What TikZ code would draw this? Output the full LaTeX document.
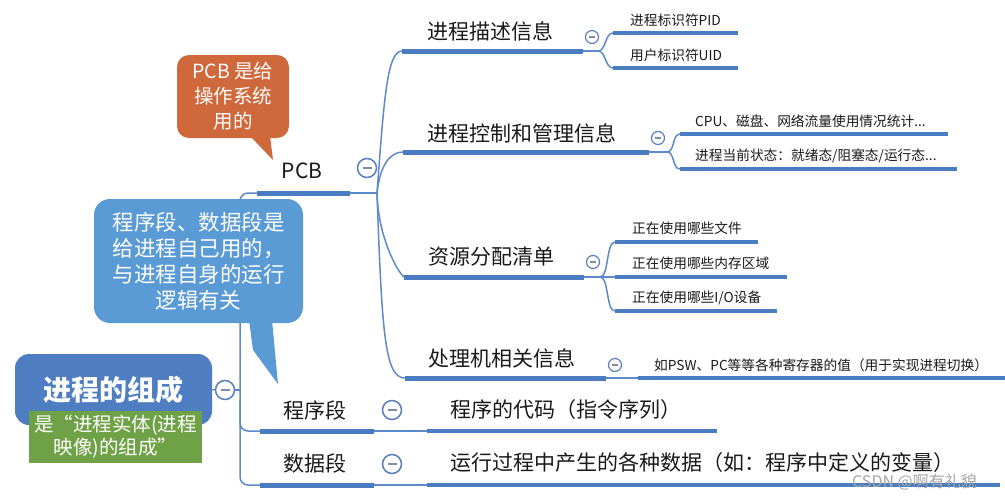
\documentclass[tikz,border=0pt]{standalone}
\usepackage{fontspec}
\newfontfamily\cjk{Noto Sans CJK SC}
\definecolor{lineblue}{HTML}{4A7CC2}
\definecolor{thinblue}{HTML}{5E8ACB}
\definecolor{circblue}{HTML}{5C7FBF}
\definecolor{minusgray}{HTML}{7D8DA6}
\definecolor{rootblue}{HTML}{4E7DC1}
\definecolor{notegreen}{HTML}{6FA246}
\definecolor{pcbred}{HTML}{CF683A}
\definecolor{noteblue}{HTML}{5B9BD5}
\definecolor{txt}{HTML}{1A1A1A}
\tikzset{
  thickln/.style={line width=5pt, draw=lineblue},
  subln/.style={line width=3.3pt, draw=lineblue},
  thinln/.style={line width=1.5pt, draw=thinblue},
  bigmin/.style={circle, draw=circblue, line width=1.5pt, fill=white, minimum size=19pt, inner sep=0pt,
    path picture={\draw[minusgray,line width=1.4pt] ([xshift=-4.5pt]path picture bounding box.center) -- ([xshift=4.5pt]path picture bounding box.center);}},
  smallmin/.style={circle, draw=circblue, line width=1.2pt, fill=white, minimum size=13pt, inner sep=0pt,
    path picture={\draw[minusgray,line width=1.1pt] ([xshift=-3pt]path picture bounding box.center) -- ([xshift=3pt]path picture bounding box.center);}},
  maintxt/.style={anchor=west, inner sep=0pt, text=txt, font=\cjk\fontsize{21}{25}\selectfont},
  subtxt/.style={anchor=west, inner sep=0pt, text=txt, font=\cjk\fontsize{13.7}{16}\selectfont},
  notetxt/.style={text=white, align=center, inner sep=0pt},
}
\begin{document}
\begin{tikzpicture}[x=1pt,y=-1pt]
\useasboundingbox (0,0) rectangle (1005,499);
\fill[white] (0,0) rectangle (1005,499);

% ---------- coordinates ----------
\coordinate (tkT) at (240,193);
\coordinate (tkB) at (240,485);
\coordinate (pcbA) at (257,193); \coordinate (pcbB) at (350,193); \coordinate (pcbC) at (377,193);
\coordinate (progA) at (260,431); \coordinate (progB) at (374,431); \coordinate (progC) at (427,431); \coordinate (codeB) at (717,431);
\coordinate (dataA) at (260,485); \coordinate (dataB) at (374,485); \coordinate (dataC) at (427,485); \coordinate (varB) at (1000,485);
\coordinate (descA) at (402,51); \coordinate (descB) at (583,51); \coordinate (descC) at (598,51);
\coordinate (pidA) at (613,33); \coordinate (pidB) at (738,33);
\coordinate (uidA) at (613,68); \coordinate (uidB) at (738,68);
\coordinate (ctrlA) at (403,152); \coordinate (ctrlB) at (649,152); \coordinate (ctrlC) at (667,152);
\coordinate (cpuA) at (680,134); \coordinate (cpuB) at (948,134);
\coordinate (stA) at (680,169); \coordinate (stB) at (957,169);
\coordinate (resA) at (404,277); \coordinate (resB) at (584,277); \coordinate (resC) at (600,277);
\coordinate (fileA) at (615,242); \coordinate (fileB) at (758,242);
\coordinate (memA) at (615,277); \coordinate (memB) at (787,277);
\coordinate (ioA) at (615,311); \coordinate (ioB) at (777,311);
\coordinate (procA) at (405,378); \coordinate (procB) at (606,378); \coordinate (procC) at (638,378); \coordinate (pswB) at (1005,378);

% ---------- texts ----------
\node[maintxt] (tdesc) at (427,31) {进程描述信息};
\node[maintxt] (tctrl) at (427,133) {进程控制和管理信息};
\node[maintxt] (tres) at (428,257) {资源分配清单};
\node[maintxt] (tproc) at (428,358) {处理机相关信息};
\node[maintxt] (tprog) at (283,410) {程序段};
\node[maintxt] (tdata) at (283,463) {数据段};
\node[maintxt] (tcode) at (450,410) {程序的代码（指令序列）};
\node[maintxt] (tvar) at (450,463) {运行过程中产生的各种数据（如：程序中定义的变量）};
\node[inner sep=0pt, text=txt, font=\cjk\fontsize{21}{25}\selectfont] (tpcb) at (302,171) {PCB};

\node[subtxt] (spid) at (630,20) {进程标识符PID};
\node[subtxt] (suid) at (630,55) {用户标识符UID};
\node[subtxt] (scpu) at (695,121) {CPU、磁盘、网络流量使用情况统计...};
\node[subtxt] (sst) at (695,156) {进程当前状态：就绪态/阻塞态/运行态...};
\node[subtxt] (sfile) at (632,228) {正在使用哪些文件};
\node[subtxt] (smem) at (632,263) {正在使用哪些内存区域};
\node[subtxt] (sio) at (632,298) {正在使用哪些I/O设备};
\node[subtxt] (spsw) at (654,365) {如PSW、PC等等各种寄存器的值（用于实现进程切换）};

% ---------- lines ----------
\draw[thinln, rounded corners=8pt] (pcbA) -- (tkT) -- (tkB) -- (dataA);
\draw[thinln, rounded corners=8pt] (240,400) |- (progA);
\draw[thickln] (pcbA) -- (pcbB);
\draw[thinln] (pcbB) -- (pcbC);
\draw[thickln] (progA) -- (progB);
\draw[thinln] (progB) -- (progC);
\draw[line width=4.5pt, draw=lineblue] (progC) -- (codeB);
\draw[thickln] (dataA) -- (dataB);
\draw[thinln] (dataB) -- (dataC);
\draw[line width=4.5pt, draw=lineblue] (dataC) -- (varB);

\draw[thinln] (pcbC) .. controls (384,100) and (387,51) .. (descA);
\draw[thinln] (pcbC) .. controls (380,165) and (390,152) .. (ctrlA);
\draw[thinln] (pcbC) .. controls (378,235) and (396,270) .. (resA);
\draw[thinln] (pcbC) .. controls (382,335) and (385,378) .. (procA);

\draw[thickln] (descA) -- (descB);
\draw[thinln] (descB) -- (descC);
\draw[thinln] (descC) .. controls (606,51) and (605,33) .. (pidA);
\draw[thinln] (descC) .. controls (606,51) and (605,68) .. (uidA);
\draw[subln] (pidA) -- (pidB);
\draw[subln] (uidA) -- (uidB);

\draw[thickln] (ctrlA) -- (ctrlB);
\draw[thinln] (ctrlB) -- (ctrlC);
\draw[thinln] (ctrlC) .. controls (675,152) and (672,134) .. (cpuA);
\draw[thinln] (ctrlC) .. controls (675,152) and (672,169) .. (stA);
\draw[subln] (cpuA) -- (cpuB);
\draw[subln] (stA) -- (stB);

\draw[thickln] (resA) -- (resB);
\draw[thinln] (resB) -- (resC);
\draw[thinln] (resC) .. controls (609,277) and (606,242) .. (fileA);
\draw[thinln] (resC) .. controls (609,277) and (606,311) .. (ioA);
\draw[thinln] (resC) -- (memA);
\draw[subln] (fileA) -- (fileB);
\draw[subln] (memA) -- (memB);
\draw[subln] (ioA) -- (ioB);

\draw[thickln] (procA) -- (procB);
\draw[thinln] (procB) -- (procC);
\draw[line width=3.5pt, draw=lineblue] (procC) -- (pswB);

% ---------- collapse circles ----------
\node[bigmin] (c0) at (225,390) {};
\node[bigmin] (cpcb) at (367,168) {};
\node[bigmin] (cprog) at (392,410) {};
\node[bigmin] (cdata) at (392,464) {};
\node[smallmin] (cdesc) at (592,37) {};
\node[smallmin] (cctrl) at (658,138) {};
\node[smallmin] (cres) at (593,262) {};
\node[smallmin] (cproc) at (615,365) {};
\draw[thinln] (c0.east) -- (c0.east -| tkT);

% ---------- callouts ----------
\fill[pcbred] (250,136) -- (273,160) -- (270,136) -- cycle;
\node[notetxt, fill=pcbred, rounded corners=12pt, minimum width=112pt, minimum height=83pt,
      font=\cjk\fontsize{19.5}{25}\selectfont] (pcbnote) at (233,96.5) {PCB 是给\\操作系统\\用的};

\fill[noteblue] (249,320) -- (253,350) -- (278,384) -- (272,320) -- cycle;
\node[notetxt, fill=noteblue, rounded corners=16pt, minimum width=209pt, minimum height=124pt,
      font=\cjk\fontsize{21.5}{26}\selectfont] (segnote) at (198.5,261)
      {程序段、数据段是\\给进程自己用的，\\与进程自身的运行\\逻辑有关};

% ---------- root ----------
\node[fill=rootblue, rounded corners=14pt, minimum width=197pt, minimum height=71pt, inner sep=0pt,
      text=white, font=\cjk\bfseries\fontsize{28}{32}\selectfont] (root) at (113.5,389.5) {\raisebox{-3pt}{进程的组成}};
\draw[thinln] (root.east) -- (c0.west);
\node[fill=notegreen, minimum width=173pt, minimum height=52pt, inner sep=0pt, notetxt,
      font=\cjk\fontsize{19.5}{23}\selectfont] (green) at (115.5,437) {是“进程实体(进程\\映像)的组成”};

% ---------- watermark ----------
\node[anchor=west, inner sep=0pt, text=black!35, font=\cjk\fontsize{16}{18}\selectfont] (wm) at (852,482) {CSDN @啊有礼貌};
\end{tikzpicture}
\end{document}
